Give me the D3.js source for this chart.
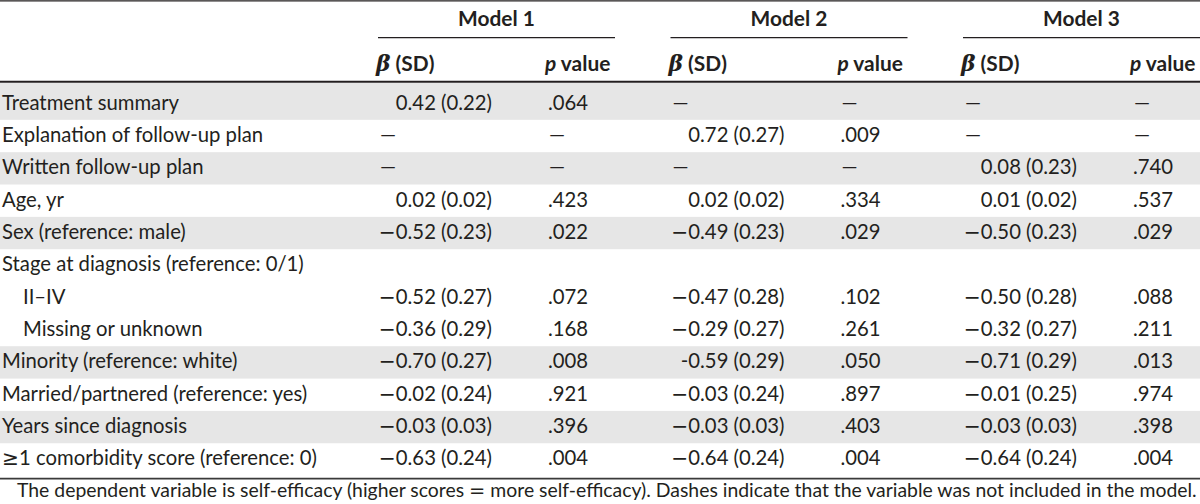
<!DOCTYPE html>
<html>
<head>
<meta charset="utf-8">
<script src="https://cdn.jsdelivr.net/npm/d3@7"></script>
<style>
  html, body { margin: 0; padding: 0; background: #fff; }
  svg { display: block; }
  text { font-family: Lato, "Open Sans", sans-serif; fill: #231f20; }
  .sym { font-family: "DejaVu Sans", sans-serif; }
</style>
</head>
<body>
<svg id="chart" width="1200" height="504"></svg>
<script>
// ---------- data ----------
const models = ["Model 1", "Model 2", "Model 3"];
const rowLabels = [
  "Treatment summary",
  "Explanation of follow-up plan",
  "Written follow-up plan",
  "Age, yr",
  "Sex (reference: male)",
  "Stage at diagnosis (reference: 0/1)",
  "II\u2013IV",
  "Missing or unknown",
  "Minority (reference: white)",
  "Married/partnered (reference: yes)",
  "Years since diagnosis",
  "\u22651 comorbidity score (reference: 0)"
];
const subRows = ["II\u2013IV", "Missing or unknown"];
// null = variable not in model (dash); undefined = heading row (blank)
const model1Beta = [0.42, null, null, 0.02, -0.52, undefined, -0.52, -0.36, -0.70, -0.02, -0.03, -0.63];
const model1SD   = [0.22, null, null, 0.02, 0.23, undefined, 0.27, 0.29, 0.27, 0.24, 0.03, 0.24];
const model1P    = [0.064, null, null, 0.423, 0.022, undefined, 0.072, 0.168, 0.008, 0.921, 0.396, 0.004];
const model2Beta = [null, 0.72, null, 0.02, -0.49, undefined, -0.47, -0.29, -0.59, -0.03, -0.03, -0.64];
const model2SD   = [null, 0.27, null, 0.02, 0.23, undefined, 0.28, 0.27, 0.29, 0.24, 0.03, 0.24];
const model2P    = [null, 0.009, null, 0.334, 0.029, undefined, 0.102, 0.261, 0.050, 0.897, 0.403, 0.004];
const model3Beta = [null, null, 0.08, 0.01, -0.50, undefined, -0.50, -0.32, -0.71, -0.01, -0.03, -0.64];
const model3SD   = [null, null, 0.23, 0.02, 0.23, undefined, 0.28, 0.27, 0.29, 0.25, 0.03, 0.24];
const model3P    = [null, null, 0.740, 0.537, 0.029, undefined, 0.088, 0.211, 0.013, 0.974, 0.398, 0.004];
// cells printed with an ASCII hyphen instead of a minus sign in the source
const hyphenCells = [[1, 8]];
const footnote = ["The dependent variable is self-efficacy (higher scores ", "=", " more self-efficacy). Dashes indicate that the variable was not included in the model."];

const betas = [model1Beta, model2Beta, model3Beta];
const sds = [model1SD, model2SD, model3SD];
const ps = [model1P, model2P, model3P];

// ---------- layout ----------
const W = 1200;
const svg = d3.select("#chart");
const FS = 20.3;
const FSB = 20.9;
const ink = "#231f20";

const modelX = d3.scaleLinear().domain([0, models.length - 1]).range([378, 963]);
const spanW = 237;
const betaRight = 114;   // right edge of beta values relative to model start
const pLeft = 168;       // p column left relative to model start
const minusAdvance = 17; // width taken by the minus sign incl. its gap

const rowY = d3.scaleBand().domain(d3.range(rowLabels.length)).range([87.5, 475.6]);

// group index for shading (sub rows share the group of the heading above)
let g = -1;
const groups = rowLabels.map(l => (subRows.includes(l) ? g : ++g));

// backgrounds
svg.append("g").selectAll("rect")
  .data(rowLabels.map((l, i) => i).filter(i => groups[i] % 2 === 0))
  .join("rect")
  .attr("x", 0)
  .attr("width", W)
  .attr("y", i => i === 0 ? 83 : rowY(i))
  .attr("height", i => i === 0 ? rowY(i) + rowY.bandwidth() - 83 : rowY.bandwidth())
  .attr("fill", "#e6e6e6");

// rules
svg.append("line").attr("x1", 0).attr("x2", W).attr("y1", 0.8).attr("y2", 0.8)
  .attr("stroke", ink).attr("stroke-width", 1.3);
svg.append("line").attr("x1", 0).attr("x2", W).attr("y1", 81.8).attr("y2", 81.8)
  .attr("stroke", ink).attr("stroke-width", 2);
svg.append("line").attr("x1", 0).attr("x2", W).attr("y1", 478.6).attr("y2", 478.6)
  .attr("stroke", "#3a3a3a").attr("stroke-width", 1.6);

// model headers
const mh = svg.append("g").selectAll("g").data(models).join("g")
  .attr("transform", (d, i) => `translate(${modelX(i)},0)`);
mh.append("text")
  .attr("x", spanW / 2).attr("y", 26)
  .attr("text-anchor", "middle")
  .style("font-weight", 700).style("font-size", FSB + "px")
  .text(d => d);
mh.append("line")
  .attr("x1", 0).attr("x2", spanW).attr("y1", 37.6).attr("y2", 37.6)
  .attr("stroke", ink).attr("stroke-width", 1.2);
const sub1 = mh.append("text").attr("x", -2).attr("y", 71)
  .style("font-weight", 700).style("font-size", FSB + "px");
sub1.append("tspan").style("font-style", "italic").style("font-family", "'DejaVu Serif', serif").style("font-size", (FSB + 1) + "px").text("\u03B2");
sub1.append("tspan").text(" (SD)");
const sub2 = mh.append("text").attr("x", pLeft - 1).attr("y", 71)
  .style("font-weight", 700).style("font-size", FSB + "px");
sub2.append("tspan").style("font-style", "italic").text("p");
sub2.append("tspan").text(" value");

// row labels
const baseOff = rowY.bandwidth() / 2 + 6;
const lab = svg.append("g").selectAll("text").data(rowLabels).join("text")
  .attr("x", d => subRows.includes(d) ? 23 : 2)
  .attr("y", (d, i) => rowY(i) + baseOff)
  .style("font-size", FS + "px");
lab.each(function (d) {
  const t = d3.select(this);
  if (d.startsWith("\u2265")) {
    t.append("tspan").attr("class", "sym").text("\u2265");
    t.append("tspan").text(d.slice(1));
  } else {
    t.text(d);
  }
});

// cells
const f2 = d3.format(".2f");
const fmtP = v => d3.format(".3f")(v).replace(/^0/, "");

models.forEach((m, mi) => {
  const x0 = modelX(mi);
  const cg = svg.append("g");
  rowLabels.forEach((l, ri) => {
    const b = betas[mi][ri];
    if (b === undefined) return;
    const y = rowY(ri) + baseOff;
    if (b === null) {
      cg.append("text").attr("x", x0 + 2).attr("y", y).style("font-size", FS + "px").text("\u2014");
      cg.append("text").attr("x", x0 + pLeft + 3).attr("y", y).style("font-size", FS + "px").text("\u2014");
    } else {
      const hy = hyphenCells.some(c => c[0] === mi && c[1] === ri);
      const t = cg.append("text").attr("x", x0 + betaRight).attr("y", y)
        .attr("text-anchor", "end").style("font-size", FS + "px");
      let gap = 0;
      if (b < 0) {
        if (hy) t.append("tspan").text("-");
        else {
          const ms = t.append("tspan").attr("class", "sym").text("\u2212");
          const w = ms.node().getComputedTextLength();
          gap = Math.max(0, minusAdvance - w);
        }
      }
      t.append("tspan").attr("dx", gap).text(`${f2(Math.abs(b))} (${f2(sds[mi][ri])})`);
      cg.append("text").attr("x", x0 + pLeft + 2).attr("y", y)
        .style("font-size", FS + "px")
        .text(fmtP(ps[mi][ri]));
    }
  });
});

// footnote
const ft = svg.append("text").attr("x", 17).attr("y", 497)
  .style("font-size", "19.4px");
ft.append("tspan").text(footnote[0]);
ft.append("tspan").attr("class", "sym").text(footnote[1]);
ft.append("tspan").text(footnote[2]);
</script>
</body>
</html>
